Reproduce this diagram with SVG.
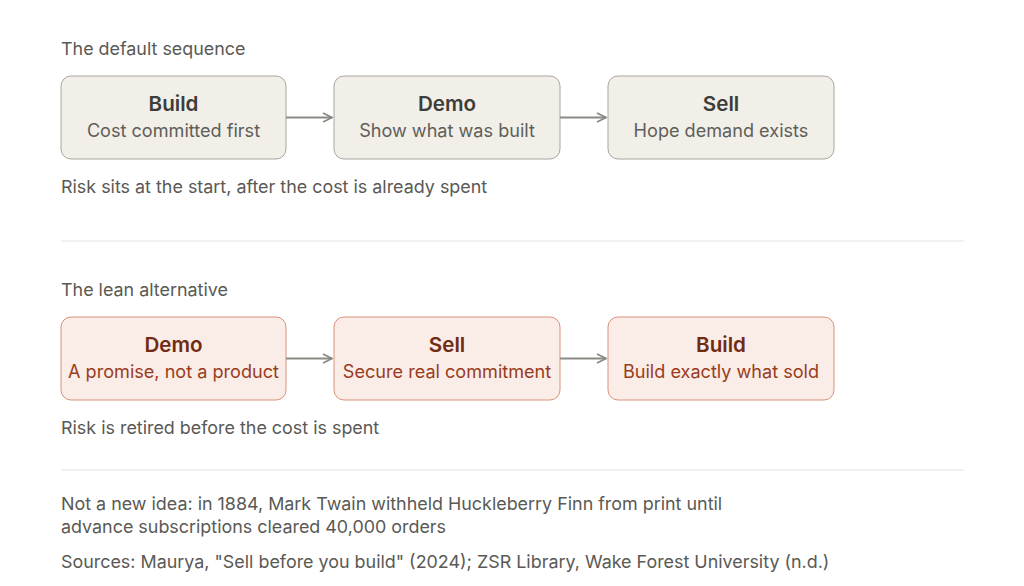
<svg xmlns="http://www.w3.org/2000/svg" width="1024" height="586" viewBox="0 0 1024 586">
<defs>
<style>
text{font-family:Inter,"Noto Sans","Liberation Sans",sans-serif}
.lbl{font-size:17.9px;fill:#5a5955}
.nt{font-size:20.6px;font-weight:600;text-anchor:middle}
.ns{font-size:18.1px;text-anchor:middle}
.g rect{fill:#f1efe8;stroke:#a9a69e;stroke-width:1}
.g .nt{fill:#3d3d3a}
.g .ns{fill:#5f5e5a}
.w rect{fill:#faece7;stroke:#d9927c;stroke-width:1}
.w .nt{fill:#712b13}
.w .ns{fill:#993c1d}
.sep{stroke:#ececea;stroke-width:1.5}
.arr{stroke:#8a8984;stroke-width:1.8;fill:none}
</style>
<marker id="ah" viewBox="0 0 12 12" refX="11" refY="6" markerWidth="12" markerHeight="12" markerUnits="userSpaceOnUse" orient="auto">
<path d="M2,1.5 L11,6 L2,10.5" fill="none" stroke="#8a8984" stroke-width="1.8"/>
</marker>
</defs>
<rect width="1024" height="586" fill="#fff"/>
<text class="lbl" x="61" y="55">The default sequence</text>
<g id="n-build1" class="g"><rect x="61" y="76" width="225" height="83" rx="10"/><text class="nt" x="173.5" y="110.5">Build</text><text class="ns" x="173.5" y="137">Cost committed first</text></g>
<g id="n-demo1" class="g"><rect x="334" y="76" width="226" height="83" rx="10"/><text class="nt" x="447" y="110.5">Demo</text><text class="ns" x="447" y="137">Show what was built</text></g>
<g id="n-sell1" class="g"><rect x="608" y="76" width="226" height="83" rx="10"/><text class="nt" x="721" y="110.5">Sell</text><text class="ns" x="721" y="137">Hope demand exists</text></g>
<text class="lbl" x="61" y="193">Risk sits at the start, after the cost is already spent</text>
<line class="sep" x1="61" y1="241" x2="964" y2="241"/>
<text class="lbl" x="61" y="296">The lean alternative</text>
<g id="n-demo2" class="w"><rect x="61" y="317" width="225" height="83" rx="10"/><text class="nt" x="173.5" y="351.5">Demo</text><text class="ns" x="173.5" y="378">A promise, not a product</text></g>
<g id="n-sell2" class="w"><rect x="334" y="317" width="226" height="83" rx="10"/><text class="nt" x="447" y="351.5">Sell</text><text class="ns" x="447" y="378">Secure real commitment</text></g>
<g id="n-build2" class="w"><rect x="608" y="317" width="226" height="83" rx="10"/><text class="nt" x="721" y="351.5">Build</text><text class="ns" x="721" y="378">Build exactly what sold</text></g>
<text class="lbl" x="61" y="434">Risk is retired before the cost is spent</text>
<line class="sep" x1="61" y1="470" x2="964" y2="470"/>
<text class="lbl" x="61" y="510">Not a new idea: in 1884, Mark Twain withheld Huckleberry Finn from print until</text>
<text class="lbl" x="61" y="533">advance subscriptions cleared 40,000 orders</text>
<text class="lbl" x="61" y="568">Sources: Maurya, "Sell before you build" (2024); ZSR Library, Wake Forest University (n.d.)</text>
<g id="connectors">
<line class="arr" x1="286" y1="117.5" x2="332" y2="117.5" marker-end="url(#ah)"/>
<line class="arr" x1="560" y1="117.5" x2="606" y2="117.5" marker-end="url(#ah)"/>
<line class="arr" x1="286" y1="358.5" x2="332" y2="358.5" marker-end="url(#ah)"/>
<line class="arr" x1="560" y1="358.5" x2="606" y2="358.5" marker-end="url(#ah)"/>
</g>
</svg>
